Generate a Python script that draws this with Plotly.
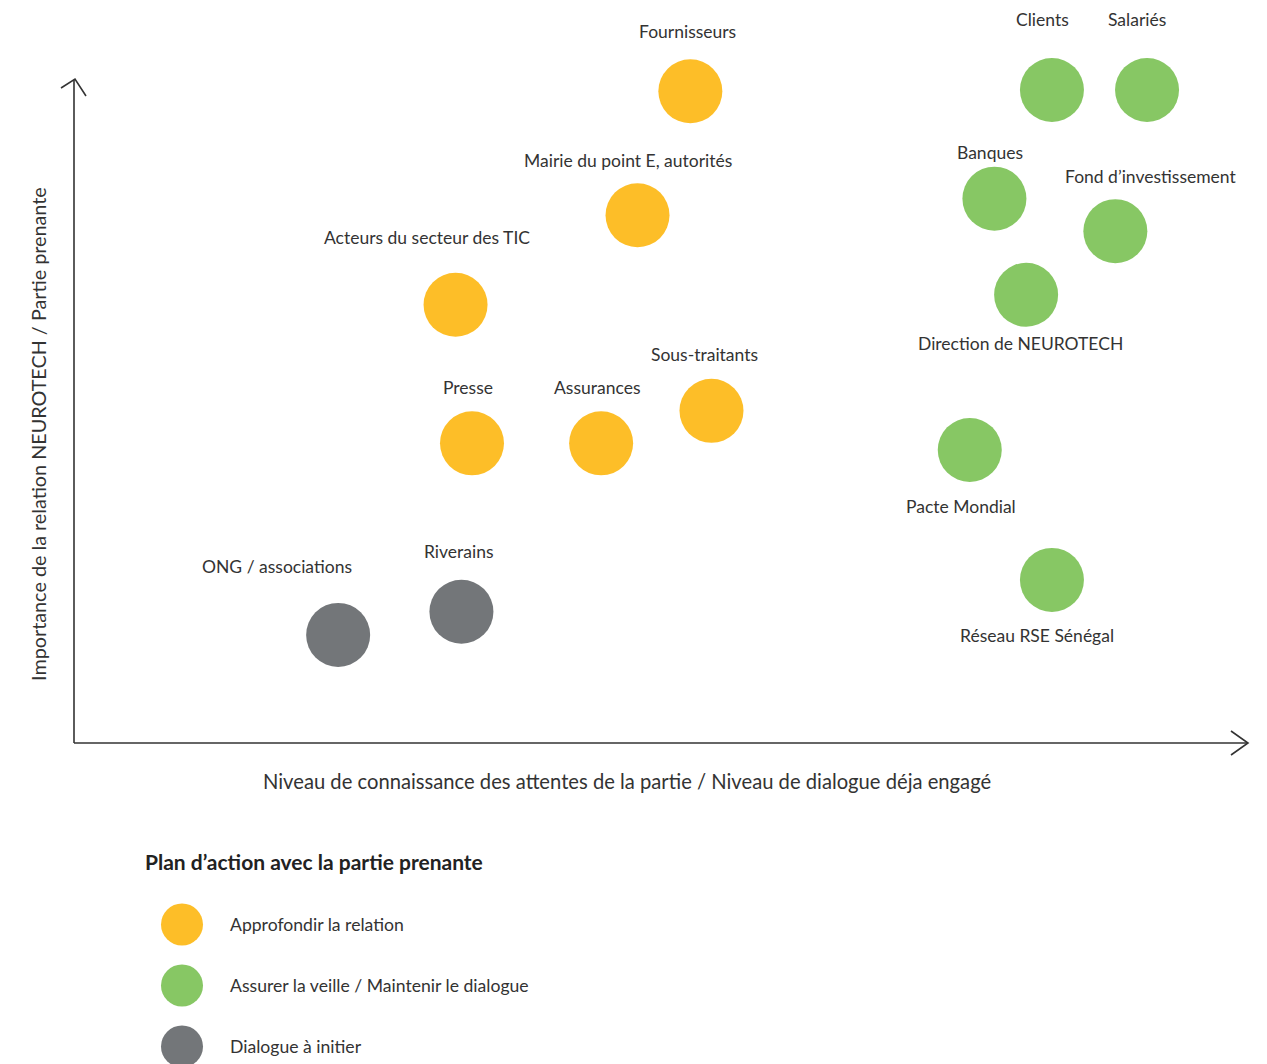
import plotly.graph_objects as go

# ---------------- data ----------------
names = ["Fournisseurs", "Clients", "Salariés", "Banques", "Fond d’investissement",
         "Mairie du point E, autorités", "Acteurs du secteur des TIC", "Direction de NEUROTECH",
         "Sous-traitants", "Presse", "Assurances", "Pacte Mondial", "Réseau RSE Sénégal",
         "Riverains", "ONG / associations"]
x_knowledge = [52.5, 83.3, 91.4, 78.4, 88.7, 48.0, 32.5, 81.1, 54.3, 33.9, 44.9, 76.3, 83.3, 33.0, 22.5]
y_importance = [98.3, 98.5, 98.5, 82.1, 77.2, 79.6, 66.1, 67.6, 50.1, 45.2, 45.2, 44.2, 24.6, 19.8, 16.3]
group = ["A", "B", "B", "B", "B", "A", "A", "B", "A", "A", "A", "B", "B", "C", "C"]

categories = ["A", "B", "C"]
category_labels = ["Approfondir la relation", "Assurer la veille / Maintenir le dialogue", "Dialogue à initier"]
legend_title = "Plan d’action avec la partie prenante"
x_title = "Niveau de connaissance des attentes de la partie / Niveau de dialogue déja engagé"
y_title = "Importance de la relation NEUROTECH / Partie prenante"

# ---------------- styles ----------------
colors = {"A": "#FDBE28", "B": "#87C764", "C": "#737679"}
# label offsets in pixels (dx, dy) relative to bubble centre
label_offsets = [(-3, 60), (-9, 70), (-10, 70), (-4, 46), (35, 55),
                 (-10, 55), (-29, 67), (-6, -49), (-7, 56), (-4, 56),
                 (-4, 56), (-9, -57), (-15, -56), (-2, 60), (-61, 68)]
FONT = "Lato"
TXT = "#333333"
W, H = 1267, 1064
OFF = 8  # page body margin
# plot area in target pixels
PL, PR, PT, PB = 74, 1248, 80, 743

def px(x):
    return (x - OFF) / W

def py(y):
    return 1 - (y - OFF) / H

fig = go.Figure()

for c in categories:
    idx = [i for i, g in enumerate(group) if g == c]
    fig.add_trace(go.Scatter(
        x=[x_knowledge[i] for i in idx],
        y=[y_importance[i] for i in idx],
        mode="markers",
        marker=dict(size=64, color=colors[c], line=dict(width=0)),
        hoverinfo="text",
        text=[names[i] for i in idx],
        cliponaxis=False,
        showlegend=False,
        xaxis="x", yaxis="y",
    ))

annotations = []
for n, xv, yv, (dx, dy) in zip(names, x_knowledge, y_importance, label_offsets):
    annotations.append(dict(x=xv, y=yv, xref="x", yref="y", text=n, showarrow=False,
                            xshift=dx, yshift=dy, font=dict(family=FONT, size=17.5, color=TXT)))

# legend (custom)
fig.add_trace(go.Scatter(
    x=[0] * len(categories), y=list(range(len(categories))),
    mode="markers",
    marker=dict(size=42, color=[colors[c] for c in categories], line=dict(width=0)),
    hoverinfo="text", text=category_labels,
    cliponaxis=False, showlegend=False,
    xaxis="x2", yaxis="y2",
))
for i, lab in enumerate(category_labels):
    annotations.append(dict(x=0, y=i, xref="x2", yref="y2", text=lab, showarrow=False,
                            xanchor="left", xshift=46, font=dict(family=FONT, size=17.6, color=TXT)))
annotations.append(dict(x=px(143), y=py(861), xref="paper", yref="paper", text="<b>" + legend_title + "</b>",
                        showarrow=False, xanchor="left", yanchor="middle",
                        font=dict(family=FONT, size=21, color="#222222")))

# axis titles
annotations.append(dict(x=px(627), y=py(781), xref="paper", yref="paper", text=x_title, showarrow=False,
                        xanchor="center", yanchor="middle", font=dict(family=FONT, size=20.2, color=TXT)))
annotations.append(dict(x=px(38), y=py(434), xref="paper", yref="paper", text=y_title, showarrow=False,
                        textangle=-90, xanchor="center", yanchor="middle",
                        font=dict(family=FONT, size=19.8, color=TXT)))

# axis lines and arrow heads
LINE = dict(color="#333333", width=1.6)
shapes = [
    dict(type="line", xref="paper", yref="paper", x0=px(74), y0=py(743), x1=px(74), y1=py(80), line=LINE),
    dict(type="line", xref="paper", yref="paper", x0=px(74), y0=py(743), x1=px(1248), y1=py(743), line=LINE),
    dict(type="path", xref="paper", yref="paper",
         path=f"M {px(61)} {py(88)} L {px(75)} {py(79)} L {px(86)} {py(96)}", line=LINE),
    dict(type="path", xref="paper", yref="paper",
         path=f"M {px(1231)} {py(731)} L {px(1248)} {py(743)} L {px(1231)} {py(755)}", line=LINE),
]

hidden = dict(showgrid=False, zeroline=False, showticklabels=False, showline=False, ticks="", fixedrange=True)

# legend axis: item spacing in px, first item at y=924 px
leg_top = 894
fig.update_layout(
    width=W, height=H,
    margin=dict(l=0, r=0, t=0, b=0),
    paper_bgcolor="white", plot_bgcolor="white",
    xaxis=dict(domain=[px(PL), px(PR)], range=[0, 100], **hidden),
    yaxis=dict(domain=[py(PB), py(PT)], range=[0, 100], **hidden),
    xaxis2=dict(domain=[0, 1], range=[-(182 - OFF), W - (182 - OFF)], anchor="y2", **hidden),
    yaxis2=dict(domain=[0, py(leg_top)], range=[-0.5 + (H + OFF - leg_top) / 61.0, -0.5], anchor="x2", **hidden),
    annotations=annotations,
    shapes=shapes,
    showlegend=False,
    font=dict(family=FONT, color=TXT),
)

fig.write_html("out.html")
